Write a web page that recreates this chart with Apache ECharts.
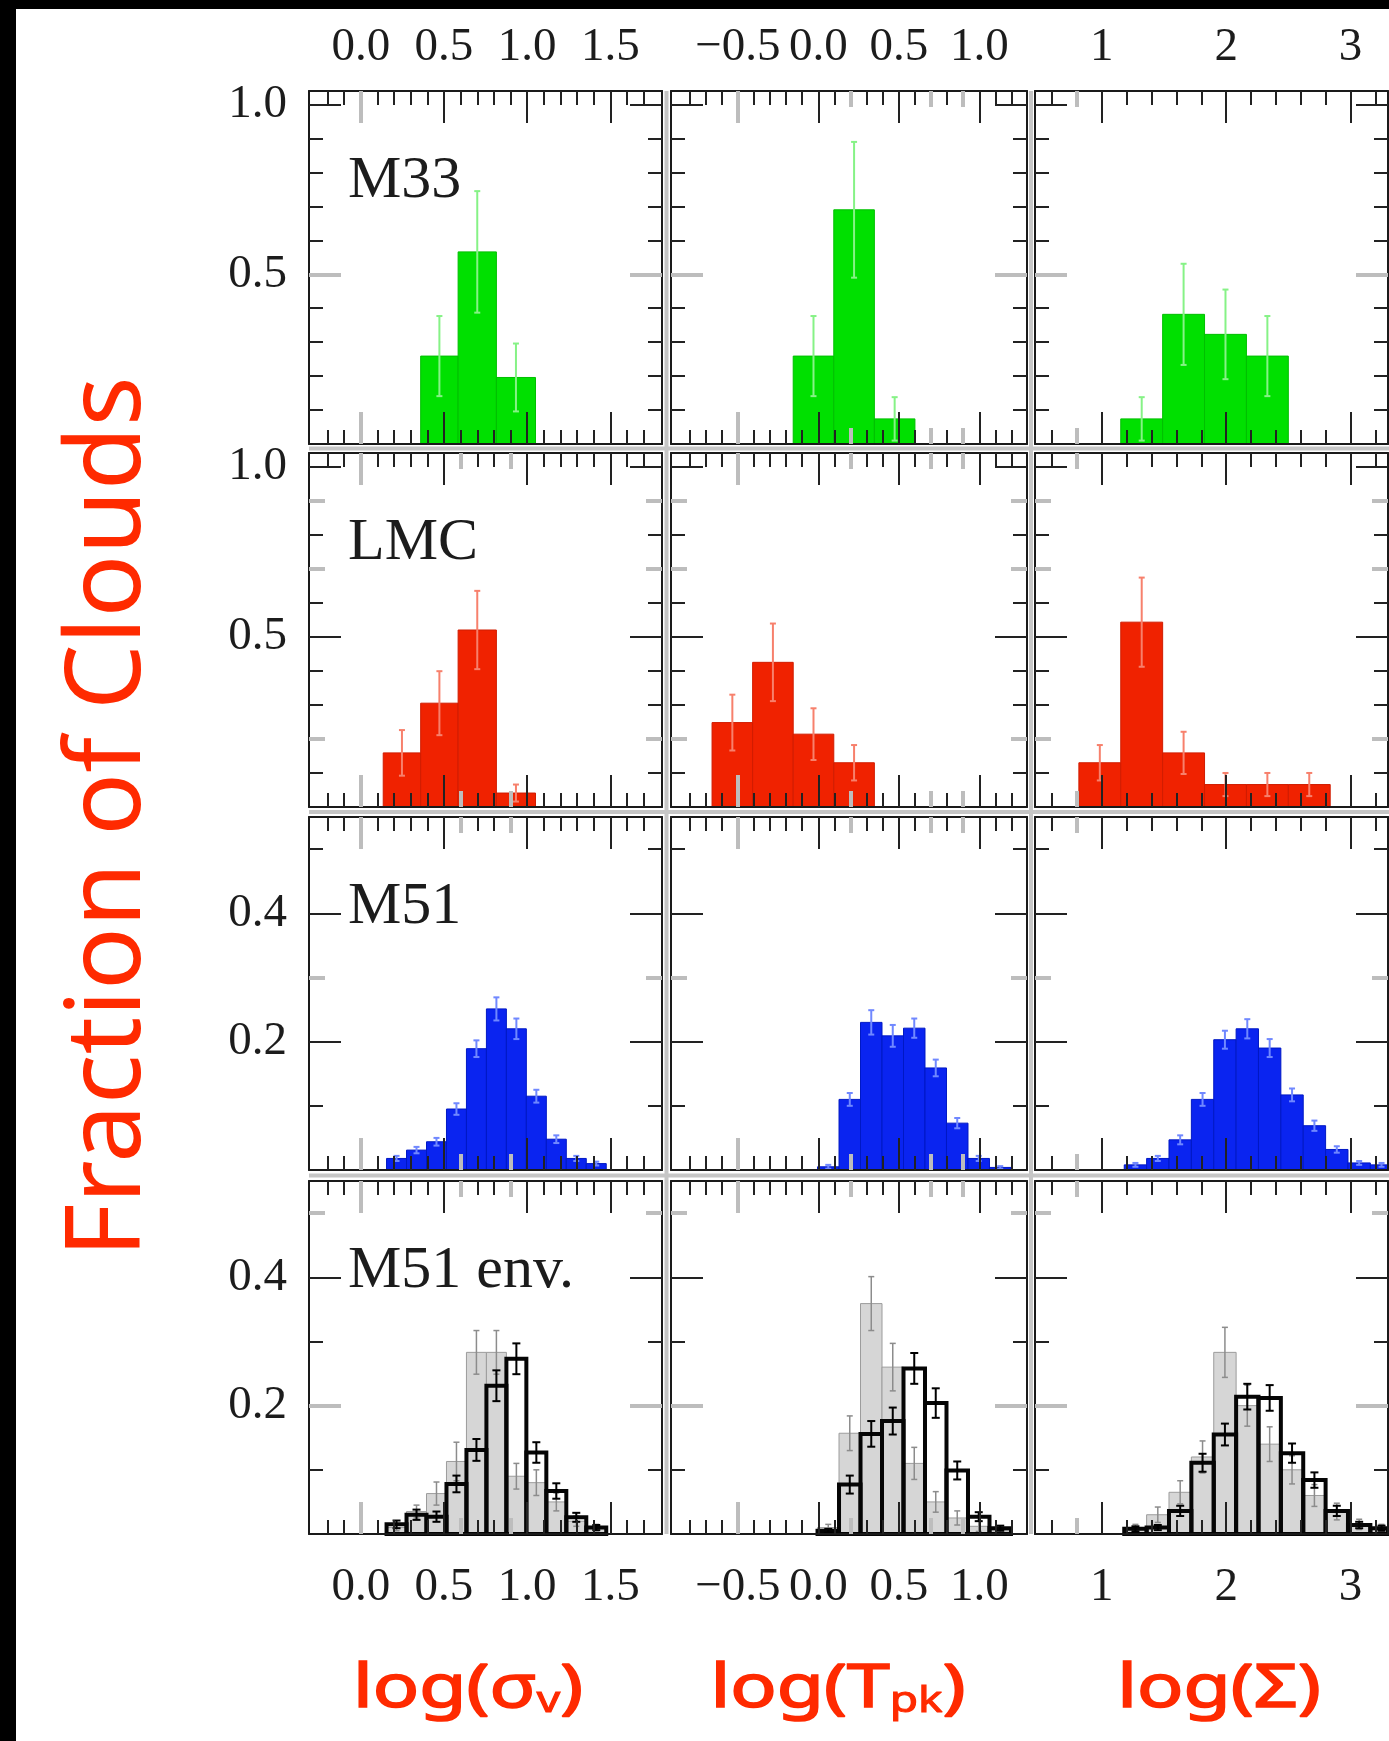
<!DOCTYPE html>
<html><head><meta charset="utf-8">
<script src="https://cdn.jsdelivr.net/npm/echarts@6/dist/echarts.min.js"></script>
<style>html,body{margin:0;padding:0;background:#fff}#c{width:1389px;height:1741px}</style>
</head><body><div id="c"></div>
<script>
// ---------------- tick labels ----------------
const sigmaTickValues = [0, 0.5, 1.0, 1.5];
const sigmaTickLabels = ['0.0', '0.5', '1.0', '1.5'];
const tpkTickValues = [-0.5, 0, 0.5, 1.0];
const tpkTickLabels = ['\u22120.5', '0.0', '0.5', '1.0'];
const surfTickValues = [1, 2, 3];
const surfTickLabels = ['1', '2', '3'];
const fracTickValuesBig = [0.5, 1.0];
const fracTickLabelsBig = ['0.5', '1.0'];
const fracTickValuesSmall = [0.2, 0.4];
const fracTickLabelsSmall = ['0.2', '0.4'];

// ---------------- categories ----------------
const galaxyNames = ['M33', 'LMC', 'M51', 'M51 env.'];
const yTitle = 'Fraction of Clouds';

// ---------------- histogram bin edges ----------------
const sigmaBinsCoarse = [0.135, 0.36, 0.585, 0.815, 1.05];
const tpkBinsCoarse = [-0.66, -0.408, -0.156, 0.096, 0.348, 0.6];
const surfBinsCoarse = [0.815, 1.152, 1.489, 1.826, 2.163, 2.5, 2.837];
const sigmaBinsFine = [0.155, 0.275, 0.395, 0.515, 0.635, 0.755, 0.875, 0.995, 1.115, 1.235, 1.355, 1.475];
const tpkBinsFine = [-0.005, 0.1285, 0.262, 0.3955, 0.529, 0.6625, 0.796, 0.9295, 1.063, 1.1965];
const surfBinsFine = [1.18, 1.36, 1.54, 1.72, 1.90, 2.08, 2.26, 2.44, 2.62, 2.80, 2.98, 3.16, 3.34];

// ---------------- M33 ----------------
const m33Sigma = [0, 0.259, 0.566, 0.196];
const m33SigmaErr = [0, 0.118, 0.179, 0.10];
const m33Tpk = [0, 0, 0.259, 0.69, 0.074];
const m33TpkErr = [0, 0, 0.118, 0.20, 0.064];
const m33Surf = [0, 0.074, 0.382, 0.323, 0.259, 0];
const m33SurfErr = [0, 0.064, 0.149, 0.132, 0.118, 0];
// ---------------- LMC ----------------
const lmcSigma = [0.159, 0.305, 0.52, 0.041];
const lmcSigmaErr = [0.067, 0.094, 0.115, 0.025];
const lmcTpk = [0.248, 0.425, 0.214, 0.13, 0];
const lmcTpkErr = [0.082, 0.114, 0.076, 0.052, 0];
const lmcSurf = [0.13, 0.543, 0.159, 0.066, 0.066, 0.066];
const lmcSurfErr = [0.052, 0.131, 0.062, 0.034, 0.034, 0.034];
// ---------------- M51 ----------------
const m51Sigma = [0.018, 0.031, 0.044, 0.095, 0.189, 0.251, 0.22, 0.115, 0.048, 0.018, 0.01];
const m51SigmaErr = [0.004, 0.005, 0.006, 0.009, 0.013, 0.018, 0.016, 0.01, 0.006, 0.004, 0.003];
const m51Tpk = [0.005, 0.11, 0.23, 0.209, 0.221, 0.159, 0.073, 0.018, 0.004];
const m51TpkErr = [0.003, 0.01, 0.019, 0.017, 0.015, 0.013, 0.008, 0.004, 0.002];
const m51Surf = [0.008, 0.018, 0.047, 0.11, 0.203, 0.22, 0.19, 0.117, 0.069, 0.032, 0.011, 0.008];
const m51SurfErr = [0.003, 0.004, 0.007, 0.01, 0.014, 0.015, 0.014, 0.01, 0.008, 0.005, 0.003, 0.003];
// ---------------- M51 environments (gray filled / black outline) ----------------
const envGraySigma = [0.01, 0.035, 0.063, 0.113, 0.283, 0.283, 0.09, 0.08, 0.05, 0.02, 0.01];
const envGraySigmaErr = [0.005, 0.01, 0.018, 0.03, 0.034, 0.034, 0.02, 0.02, 0.014, 0.008, 0.005];
const envBlackSigma = [0.015, 0.03, 0.027, 0.078, 0.131, 0.231, 0.273, 0.127, 0.067, 0.026, 0.01];
const envBlackSigmaErr = [0.006, 0.008, 0.008, 0.013, 0.017, 0.024, 0.024, 0.016, 0.012, 0.007, 0.004];
const envGrayTpk = [0.01, 0.157, 0.359, 0.26, 0.11, 0.05, 0.025, 0.012, 0.005];
const envGrayTpkErr = [0.005, 0.027, 0.042, 0.037, 0.025, 0.016, 0.011, 0.008, 0.005];
const envBlackTpk = [0.005, 0.077, 0.156, 0.176, 0.258, 0.204, 0.099, 0.027, 0.009];
const envBlackTpkErr = [0.003, 0.014, 0.02, 0.021, 0.024, 0.023, 0.014, 0.007, 0.004];
const envGraySurf = [0.01, 0.03, 0.065, 0.12, 0.283, 0.2, 0.14, 0.1, 0.06, 0.035, 0.015, 0.01];
const envGraySurfErr = [0.005, 0.012, 0.018, 0.025, 0.039, 0.032, 0.027, 0.022, 0.017, 0.013, 0.008, 0.005];
const envBlackSurf = [0.008, 0.01, 0.036, 0.111, 0.155, 0.214, 0.212, 0.126, 0.084, 0.036, 0.014, 0.009];
const envBlackSurfErr = [0.004, 0.004, 0.008, 0.014, 0.017, 0.02, 0.02, 0.015, 0.012, 0.008, 0.005, 0.004];

// ================= layout / styles =================
const RED = '#ff2a00';
const INK = '#1c1c1c';
const colLeft = [309, 671, 1035], colWidth = [353, 356, 353];
const rowTop = [91, 453, 817, 1181], rowHeight = [353, 354, 353, 353];
const xRange = [[-0.311, 1.81], [-0.915, 1.296], [0.462, 3.302]];
const yMaxByRow = [1.04, 1.04, 0.55, 0.55];
const xMajor = [sigmaTickValues, tpkTickValues, surfTickValues];
const xLabels = [sigmaTickLabels, tpkTickLabels, surfTickLabels];
const xMinorStep = [0.1, 0.1, 0.2];
const xGrayMajor = [[0], [-0.5], []];
const xGrayMinor = [[0.6, 0.9], [0.2, 0.7, 0.9], [0.8]];
const yMajorVals = [fracTickValuesBig, fracTickValuesBig, fracTickValuesSmall, fracTickValuesSmall];
const yMajorLabels = [fracTickLabelsBig, fracTickLabelsBig, fracTickLabelsSmall, fracTickLabelsSmall];
const yGrayMajor = [[0.5], [], [], [0.2]];
const yGrayMinor = [[], [0.2, 0.7, 0.9], [0.3], [0.5]];

const styles = {
  green: { fill: '#00e000', stroke: '#00bf00', lw: 1, err: '#86f286', errW: 2, cap: 3 },
  red:   { fill: '#f02200', stroke: '#d01c00', lw: 1, err: '#f7806c', errW: 2, cap: 3 },
  blue:  { fill: '#0a24f0', stroke: '#0018c4', lw: 1, err: '#7088ff', errW: 2, cap: 3 },
  gray:  { fill: '#d6d6d6', stroke: '#9c9c9c', lw: 1, err: '#8c8c8c', errW: 1.5, cap: 3 },
  black: { fill: 'none', stroke: '#050505', lw: 4, err: '#000000', errW: 2, cap: 4 }
};

const panels = [
  [ {bins: sigmaBinsCoarse, sets: [[m33Sigma, m33SigmaErr, 'green']]},
    {bins: tpkBinsCoarse, sets: [[m33Tpk, m33TpkErr, 'green']]},
    {bins: surfBinsCoarse, sets: [[m33Surf, m33SurfErr, 'green']]} ],
  [ {bins: sigmaBinsCoarse, sets: [[lmcSigma, lmcSigmaErr, 'red']]},
    {bins: tpkBinsCoarse, sets: [[lmcTpk, lmcTpkErr, 'red']]},
    {bins: surfBinsCoarse, sets: [[lmcSurf, lmcSurfErr, 'red']]} ],
  [ {bins: sigmaBinsFine, sets: [[m51Sigma, m51SigmaErr, 'blue']]},
    {bins: tpkBinsFine, sets: [[m51Tpk, m51TpkErr, 'blue']]},
    {bins: surfBinsFine, sets: [[m51Surf, m51SurfErr, 'blue']]} ],
  [ {bins: sigmaBinsFine, sets: [[envGraySigma, envGraySigmaErr, 'gray'], [envBlackSigma, envBlackSigmaErr, 'black']]},
    {bins: tpkBinsFine, sets: [[envGrayTpk, envGrayTpkErr, 'gray'], [envBlackTpk, envBlackTpkErr, 'black']]},
    {bins: surfBinsFine, sets: [[envGraySurf, envGraySurfErr, 'gray'], [envBlackSurf, envBlackSurfErr, 'black']]} ]
];

// ================= helpers =================
function steps(lo, hi, step) {
  const out = [];
  const k0 = Math.ceil(lo / step - 1e-9), k1 = Math.floor(hi / step + 1e-9);
  for (let k = k0; k <= k1; k++) out.push(+(k * step).toFixed(6));
  return out;
}
function without(arr, ex) { return arr.filter(v => !ex.some(e => Math.abs(e - v) < 1e-6)); }
function insideRange(arr, lo, hi, pad) { return arr.filter(v => v > lo + pad && v < hi - pad); }
function fmt(vals, labels) {
  return function (v) {
    const i = vals.findIndex(x => Math.abs(x - v) < 1e-6);
    return i >= 0 ? labels[i] : '';
  };
}

const grids = [], xAxes = [], yAxes = [], series = [];
const MAJ = 32, MIN = 14;
const BLACK_TICK = '#222222', GRAY_TICK = '#bdbdbd';
const labelFont = { fontFamily: 'Liberation Serif', fontSize: 47, color: INK };

function tickAxis(gi, pos, min, max, values, len, color, width, extra) {
  const ax = {
    gridIndex: gi, type: 'value', position: pos, min: min, max: max, z: 10, silent: true,
    splitLine: { show: false },
    axisLine: { show: false, onZero: false },
    axisLabel: { show: false },
    axisTick: { show: values.length > 0, inside: true, length: len,
      lineStyle: { color: color, width: width }, customValues: values }
  };
  if (extra) Object.assign(ax, extra);
  return ax;
}

function addSide(list, gi, pos, min, max, blackMajor, blackMinor, grayMajor, grayMinor, labelCfg) {
  const mainIdx = list.length;
  const main = tickAxis(gi, pos, min, max, blackMajor, MAJ, BLACK_TICK, 2);
  main.axisLine = { show: true, onZero: false, lineStyle: { color: '#1a1a1a', width: 2 } };
  if (labelCfg) {
    main.axisLabel = Object.assign({ show: true, customValues: labelCfg.values,
      formatter: fmt(labelCfg.values, labelCfg.labels), margin: labelCfg.margin }, labelFont);
  }
  list.push(main);
  if (blackMinor.length) list.push(tickAxis(gi, pos, min, max, blackMinor, MIN, BLACK_TICK, 2));
  if (grayMajor.length) list.push(tickAxis(gi, pos, min, max, grayMajor, MAJ, GRAY_TICK, 4));
  if (grayMinor.length) list.push(tickAxis(gi, pos, min, max, grayMinor, MIN + 2, GRAY_TICK, 4));
  return mainIdx;
}

function barRender(st) {
  return function (params, api) {
    const x0 = api.value(0), x1 = api.value(1), h = api.value(2);
    if (!(h > 0)) return null;
    const p0 = api.coord([x0, 0]);
    const p1 = api.coord([x1, h]);
    const cs = params.coordSys;
    const shape = echarts.graphic.clipRectByRect(
      { x: p0[0], y: p1[1], width: p1[0] - p0[0], height: p0[1] - p1[1] },
      { x: cs.x, y: cs.y, width: cs.width, height: cs.height });
    if (!shape) return null;
    return { type: 'rect', shape: shape,
      style: { fill: st.fill, stroke: st.stroke, lineWidth: st.lw } };
  };
}
function errRender(st) {
  return function (params, api) {
    const x0 = api.value(0), x1 = api.value(1), h = api.value(2), e = api.value(3);
    if (!(h > 0) || !(e > 0)) return null;
    const xc = (x0 + x1) / 2;
    const cs = params.coordSys;
    const top = api.coord([xc, h + e]);
    const bot = api.coord([xc, Math.max(h - e, 0)]);
    if (top[0] > cs.x + cs.width || top[0] < cs.x) return null;
    const s = { stroke: st.err, lineWidth: st.errW };
    return { type: 'group', children: [
      { type: 'line', shape: { x1: top[0], y1: top[1], x2: bot[0], y2: bot[1] }, style: s },
      { type: 'line', shape: { x1: top[0] - st.cap, y1: top[1], x2: top[0] + st.cap, y2: top[1] }, style: s },
      { type: 'line', shape: { x1: bot[0] - st.cap, y1: bot[1], x2: bot[0] + st.cap, y2: bot[1] }, style: s }
    ]};
  };
}

// ================= build panels =================
for (let r = 0; r < 4; r++) {
  for (let c = 0; c < 3; c++) {
    const gi = grids.length;
    grids.push({ left: colLeft[c], top: rowTop[r], width: colWidth[c], height: rowHeight[r] });
    const xmin = xRange[c][0], xmax = xRange[c][1];
    const ymax = yMaxByRow[r];
    const gMinX = (r === 0 && c === 0) ? [] : xGrayMinor[c];
    const bMajX = without(xMajor[c], xGrayMajor[c]);
    const bMinX = insideRange(without(steps(xmin, xmax, xMinorStep[c]), xMajor[c].concat(gMinX)),
      xmin, xmax, (xmax - xmin) * 0.012);
    const xMain = addSide(xAxes, gi, 'bottom', xmin, xmax, bMajX, bMinX, xGrayMajor[c], gMinX,
      r === 3 ? { values: xMajor[c], labels: xLabels[c], margin: 30 } : null);
    addSide(xAxes, gi, 'top', xmin, xmax, bMajX, bMinX, xGrayMajor[c], gMinX,
      r === 0 ? { values: xMajor[c], labels: xLabels[c], margin: 20 } : null);
    const bMajY = without(yMajorVals[r], yGrayMajor[r]);
    const bMinY = insideRange(without(steps(0, ymax, 0.1), yMajorVals[r].concat(yGrayMinor[r])),
      0, ymax, ymax * 0.012);
    const yMain = addSide(yAxes, gi, 'left', 0, ymax, bMajY, bMinY, yGrayMajor[r], yGrayMinor[r],
      c === 0 ? { values: yMajorVals[r], labels: yMajorLabels[r], margin: 22 } : null);
    addSide(yAxes, gi, 'right', 0, ymax, bMajY, bMinY, yGrayMajor[r], yGrayMinor[r], null);

    const p = panels[r][c];
    p.sets.forEach(function (set, si) {
      const vals = set[0], errs = set[1], st = styles[set[2]];
      const data = vals.map((v, i) => [p.bins[i], p.bins[i + 1], v, errs[i]]);
      series.push({ type: 'custom', name: galaxyNames[r] + '-' + c + '-' + set[2],
        xAxisIndex: xMain, yAxisIndex: yMain, z: 2 + si * 2,
        encode: { x: [0, 1], y: 2 }, renderItem: barRender(st), data: data, silent: true });
      series.push({ type: 'custom', name: galaxyNames[r] + '-' + c + '-' + set[2] + '-err',
        xAxisIndex: xMain, yAxisIndex: yMain, z: 3 + si * 2,
        encode: { x: [0, 1], y: 2 }, renderItem: errRender(st), data: data, silent: true });
    });
  }
}

// ================= decorations & titles =================
const graphic = [];
graphic.push({ type: 'rect', z: 50, shape: { x: 0, y: 0, width: 1389, height: 9 }, style: { fill: '#000' } });
graphic.push({ type: 'rect', z: 50, shape: { x: 0, y: 0, width: 16, height: 1741 }, style: { fill: '#000' } });
[666.5, 1031].forEach(x => graphic.push({ type: 'line', z: 1,
  shape: { x1: x, y1: 91, x2: x, y2: 1534 }, style: { stroke: '#c6c6c6', lineWidth: 4 } }));
[448.5, 812, 1175.5].forEach(y => graphic.push({ type: 'line', z: 1,
  shape: { x1: 309, y1: y, x2: 1389, y2: y }, style: { stroke: '#c6c6c6', lineWidth: 4 } }));
galaxyNames.forEach((n, r) => graphic.push({ type: 'text', z: 60, x: 348, y: rowTop[r] + 90,
  style: { text: n, fontFamily: 'Liberation Serif', fontSize: 60, fill: INK, align: 'left', verticalAlign: 'middle' } }));
graphic.push({ type: 'text', z: 60, x: 110, y: 817, rotation: Math.PI / 2,
  style: { text: yTitle, fontFamily: 'Noto Sans', fontSize: 104, fill: RED, align: 'center', verticalAlign: 'middle' } });
const subRich = { s: { fontFamily: 'Noto Sans', fontSize: 36, fill: RED, stroke: RED, lineWidth: 1, lineHeight: 22, verticalAlign: 'bottom' } };
const xTitles = ['log(\u03c3{s|v})', 'log(T{s|pk})', 'log(\u03a3)'];
const xTitleCenters = [468, 838, 1219];
xTitles.forEach((t, i) => graphic.push({ type: 'text', z: 60, x: xTitleCenters[i], y: 1690, scaleX: 1.28,
  style: { text: t, fontFamily: 'Noto Sans', fontSize: 60, fill: RED, stroke: RED, lineWidth: 1.6,
    align: 'center', verticalAlign: 'middle', rich: subRich } }));

const chart = echarts.init(document.getElementById('c'), null, { renderer: 'canvas' });
chart.setOption({
  animation: false, backgroundColor: '#ffffff',
  grid: grids, xAxis: xAxes, yAxis: yAxes, series: series, graphic: graphic
});
</script>
</body></html>
